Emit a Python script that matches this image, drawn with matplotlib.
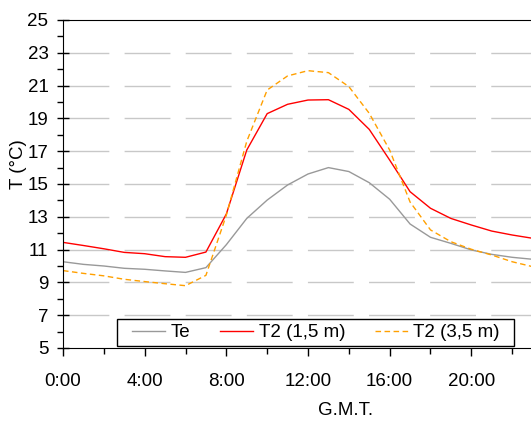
import matplotlib
matplotlib.use('Agg')
import matplotlib.pyplot as plt
from matplotlib.ticker import FixedLocator, FuncFormatter
from matplotlib.patches import Rectangle

plt.rcParams['font.family'] = ['Liberation Sans', 'DejaVu Sans']

hours = list(range(24))
te = [10.26, 10.1, 10.0, 9.86, 9.8, 9.7, 9.61, 9.9, 11.3, 12.9, 14.02, 14.94,
      15.61, 16.0, 15.76, 15.08, 14.07, 12.56, 11.75, 11.38, 10.98, 10.71, 10.53, 10.41]
t2_15 = [11.44, 11.25, 11.05, 10.83, 10.75, 10.57, 10.53, 10.85, 13.17, 17.07, 19.29, 19.86,
         20.12, 20.14, 19.55, 18.33, 16.46, 14.53, 13.52, 12.9, 12.5, 12.13, 11.89, 11.69]
t2_35 = [9.72, 9.55, 9.4, 9.19, 9.05, 8.92, 8.8, 9.43, 13.1, 17.6, 20.73, 21.59,
         21.91, 21.79, 20.94, 19.31, 17.07, 13.9, 12.2, 11.48, 11.02, 10.67, 10.26, 9.96]

y_major = list(range(5, 26, 2))
y_minor = list(range(6, 25, 2))
x_major = [0, 4, 8, 12, 16, 20]
x_minor = [2, 6, 10, 14, 18, 22]

fig = plt.figure(figsize=(5.31, 4.23), dpi=100)
# axes reaches past the right edge (24:00 is cut off like in the original)
ax = fig.add_axes([63/531, 1-348/423, (553-63)/531, (348-20)/423])

for y in y_major[1:-1]:
    ax.axhline(y, color='#c8c8c8', lw=1, dashes=(33, 11), zorder=0)

ax.plot(hours, te, color='#999999', lw=1, label='Te')
ax.plot(hours, t2_15, color='#ff0000', lw=1, label='T2 (1,5 m)')
ax.plot(hours, t2_35, color='#ffa000', lw=1, ls=(0, (4, 2.5)), label='T2 (3,5 m)')

ax.set_xlim(0, 24)
ax.set_ylim(5, 25)
ax.xaxis.set_major_locator(FixedLocator(x_major))
ax.xaxis.set_minor_locator(FixedLocator(x_minor))
ax.xaxis.set_major_formatter(FuncFormatter(lambda v, p: f"{int(v)}:00"))
ax.yaxis.set_major_locator(FixedLocator(y_major))
ax.yaxis.set_minor_locator(FixedLocator(y_minor))
ax.tick_params(which='both', width=1, labelsize=13.5)
ax.tick_params(axis='x', which='major', direction='out', length=6, pad=12)
ax.tick_params(axis='x', which='minor', direction='out', length=4)
ax.tick_params(axis='y', which='major', direction='inout', length=9, pad=6)
ax.tick_params(axis='y', which='minor', direction='out', length=4)
ax.spines['right'].set_visible(False)

ax.set_ylabel('T (°C)', fontsize=13.5)
ax.yaxis.set_label_coords(-0.073, 0.56)
ax.set_xlabel('G.M.T.', fontsize=13.5)
ax.xaxis.set_label_coords((346-63)/(553-63), -0.165)

# legend box drawn separately so the padding matches the original
box = Rectangle((117/531, 1-346/423), (514-117)/531, 27/423,
                transform=fig.transFigure, facecolor='white',
                edgecolor='black', lw=1, zorder=5, clip_on=False)
ax.add_patch(box)
leg = ax.legend(ncol=3, loc='center', bbox_to_anchor=(316/531, 1-332.5/423),
                bbox_transform=fig.transFigure, fontsize=13.5, frameon=False,
                handlelength=1.75, handletextpad=0.3, columnspacing=1.6,
                borderpad=0, borderaxespad=0)
leg.set_zorder(6)

fig.savefig('out.png', dpi=100)
